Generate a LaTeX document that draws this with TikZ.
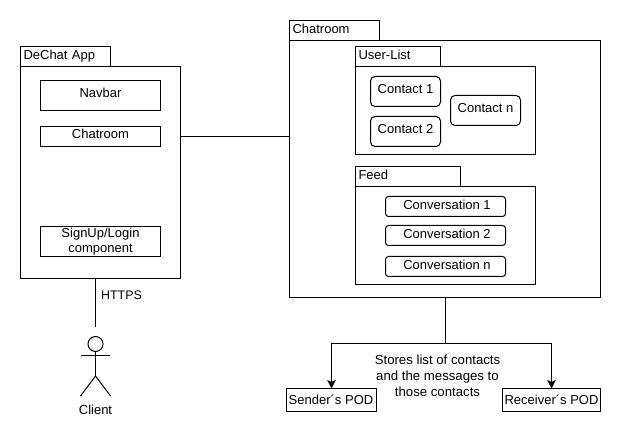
\documentclass[tikz,border=0pt]{standalone}
\usepackage{fontspec}
\setmainfont{Liberation Sans}
\usetikzlibrary{arrows.meta}
\tikzset{
  base/.style={draw=black,line width=1pt,outer sep=0pt,inner sep=0pt,anchor=north west,font=\fontsize{13}{15}\selectfont,align=center},
  upper/.style={text height=9pt,text depth=4pt},
  box/.style={base,upper},
  rbox/.style={base,upper,rounded corners=4.5pt},
  convbox/.style={base,text height=9pt,text depth=3.5pt,rounded corners=3pt,minimum width=120pt,minimum height=20pt,execute at begin node={\hspace*{3pt}}},
  tab/.style={base,align=left,text height=9pt,text depth=3.5pt,inner xsep=3pt},
  conn/.style={line width=1pt,draw=black},
  arr/.style={conn,-{Stealth[length=8.5pt,width=8.5pt,inset=2pt]}},
  lbl/.style={font=\fontsize{13}{16}\selectfont,align=center,inner sep=0pt},
}
\begin{document}
\begin{tikzpicture}[x=1pt,y=-1pt]
\useasboundingbox (0,0) rectangle (621,438);
% DeChat App
\node[tab,minimum width=90pt,minimum height=20pt,text width=84pt] (dtab) at (20.5,46.5) {DeChat App};
\node[base,minimum width=160pt,minimum height=212pt] (dechat) at (20.5,66.5) {};
\node[box,minimum width=120pt,minimum height=30pt] (navbar) at (40.5,80.5) {Navbar};
\node[box,minimum width=120pt,minimum height=20pt] (dchat) at (40.5,126.5) {Chatroom};
\node[base,minimum width=120pt,minimum height=30pt] (signup) at (40.5,226.5) {SignUp/Login\\component};
% Chatroom
\node[tab,minimum width=90pt,minimum height=20pt,text width=84pt] (ctab) at (289.5,20.5) {Chatroom};
\node[base,minimum width=311pt,minimum height=257pt] (chat) at (289.5,40.5) {};
% User list
\node[tab,minimum width=85pt,minimum height=20pt,text width=79pt] (utab) at (355.5,46.5) {User-List};
\node[base,minimum width=180pt,minimum height=88pt] (ulist) at (355.5,66.5) {};
\node[rbox,minimum width=70pt,minimum height=30pt] (c1) at (370.5,76.5) {Contact 1};
\node[rbox,minimum width=70pt,minimum height=30pt] (c2) at (370.5,116.5) {Contact 2};
\node[rbox,minimum width=70pt,minimum height=30pt] (cn) at (450.5,95.5) {Contact n};
% Feed
\node[tab,minimum width=105pt,minimum height=20pt,text width=99pt] (ftab) at (355.5,166.5) {Feed};
\node[base,minimum width=180pt,minimum height=98pt] (feed) at (355.5,186.5) {};
\node[convbox] (v1) at (385.5,196.5) {Conversation 1};
\node[convbox] (v2) at (385.5,225.5) {Conversation 2};
\node[convbox] (vn) at (385.5,256.5) {Conversation n};
% PODs
\node[base,minimum width=90pt,minimum height=23pt] (sender) at (286,388.5) {Sender´s POD};
\node[base,minimum width=98pt,minimum height=23pt] (receiver) at (502.5,388.5) {Receiver´s POD};
% Connectors
\draw[conn] (dechat.east |- dchat.center) -- (chat.west |- dchat.center);
\coordinate (split) at (445.5,343.5);
\draw[conn] (chat.south -| split) -- (split);
\draw[arr] (split) -| ([xshift=.5pt]sender.north);
\draw[arr] (split) -| (receiver.north);
\node[lbl,font=\fontsize{13.2}{16}\selectfont] (store) at (437.5,375.7) {Stores list of contacts\\and the messages to\\those contacts};
% Actor
\coordinate (actortop) at (95,327);
\draw[conn] (actortop |- dechat.south) -- (actortop);
\node[draw=black,line width=1pt,circle,minimum size=15pt,inner sep=0pt,outer sep=0pt] (head) at (95.5,344) {};
\coordinate (neck) at (95.5,376);
\draw[conn] (head.south) -- (neck);
\coordinate (armL) at (81,355);
\coordinate (armR) at (110,355);
\draw[conn] (armL) -- (armR);
\coordinate (legL) at (80.5,396);
\coordinate (legR) at (110.5,396);
\draw[conn] (legL) -- (neck) -- (legR);
\node[lbl] (client) at (95.5,409.7) {Client};
\node[lbl,anchor=west,font=\fontsize{12.4}{16}\selectfont] (https) at (101,295) {HTTPS};
\end{tikzpicture}
\end{document}
